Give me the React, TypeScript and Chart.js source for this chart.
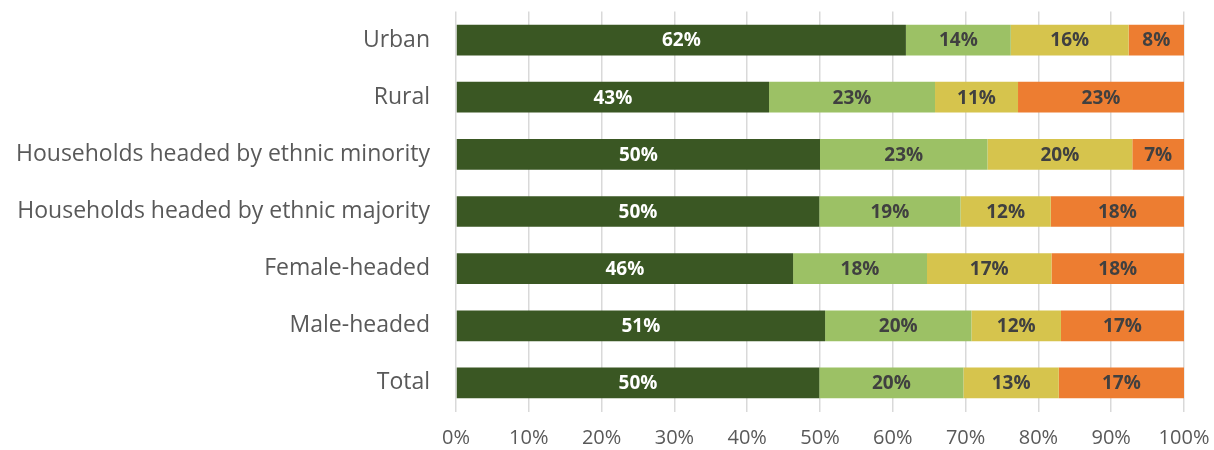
import React, { useEffect, useRef } from "react";
import { Chart, registerables } from "chart.js";

Chart.register(...registerables);

const categories = [
  "Urban",
  "Rural",
  "Households headed by ethnic minority",
  "Households headed by ethnic majority",
  "Female-headed",
  "Male-headed",
  "Total",
];

const series1 = [61.8, 43.0, 50.0, 49.9, 46.3, 50.7, 49.9];
const series2 = [14.4, 22.8, 23.0, 19.4, 18.4, 20.1, 19.8];
const series3 = [16.2, 11.4, 19.9, 12.4, 17.1, 12.3, 13.1];
const series4 = [7.6, 22.8, 7.1, 18.3, 18.2, 16.9, 17.2];

const seriesNames = ["Series 1", "Series 2", "Series 3", "Series 4"];
const seriesColors = ["#3A5723", "#9CC165", "#D6C44D", "#ED7D31"];
const labelColors = ["#FFFFFF", "#404040", "#404040", "#404040"];

const xTicks = [0, 10, 20, 30, 40, 50, 60, 70, 80, 90, 100];

const FONT = "'Open Sans', sans-serif";

const dataLabelPlugin = {
  id: "dataLabels",
  afterDatasetsDraw(chart: any) {
    const ctx = chart.ctx;
    ctx.save();
    ctx.font = `bold 19px ${FONT}`;
    ctx.textAlign = "center";
    ctx.textBaseline = "middle";
    chart.data.datasets.forEach((ds: any, di: number) => {
      const meta = chart.getDatasetMeta(di);
      meta.data.forEach((el: any, i: number) => {
        const v = ds.data[i];
        const p = el.getCenterPoint();
        ctx.fillStyle = labelColors[di];
        ctx.fillText(Math.round(v) + "%", p.x, p.y + 1);
      });
    });
    ctx.restore();
  },
};

export default function App() {
  const ref = useRef<HTMLCanvasElement>(null);
  useEffect(() => {
    document.body.style.margin = "0";
    const chart = new Chart(ref.current!, {
      type: "bar",
      data: {
        labels: categories,
        datasets: [series1, series2, series3, series4].map((d, i) => ({
          label: seriesNames[i],
          data: d,
          backgroundColor: seriesColors[i],
          borderWidth: 0,
          barPercentage: 0.537,
          categoryPercentage: 1,
        })),
      },
      options: {
        indexAxis: "y",
        animation: false,
        responsive: true,
        maintainAspectRatio: false,
        layout: { padding: { top: 11.5, right: 30, left: 0, bottom: 0 } },
        plugins: {
          legend: { display: false },
          tooltip: { enabled: false },
        },
        scales: {
          x: {
            stacked: true,
            min: 0,
            max: 100,
            afterBuildTicks: (s: any) => {
              s.ticks = xTicks.map((v) => ({ value: v }));
            },
            afterFit: (s: any) => {
              s.height = 38.5;
              s.paddingLeft = 0;
              s.paddingRight = 0;
            },
            grid: {
              color: "#D9D9D9",
              lineWidth: 1.5,
              drawTicks: false,
            },
            border: { display: false },
            ticks: {
              padding: 15,
              color: "#595959",
              font: { family: FONT, size: 20 },
              callback: (v: any) => v + "%",
            },
          },
          y: {
            stacked: true,
            afterFit: (s: any) => {
              s.width = 456;
              s.paddingTop = 0;
              s.paddingBottom = 0;
            },
            grid: { display: false, drawTicks: false },
            border: { display: false },
            ticks: {
              padding: 26,
              color: "#595959",
              font: { family: FONT, size: 23 },
            },
          },
        },
      },
      plugins: [dataLabelPlugin],
    });
    return () => chart.destroy();
  }, []);
  return (
    <div style={{ width: 1214, height: 450, position: "relative" }}>
      <canvas ref={ref} />
    </div>
  );
}
